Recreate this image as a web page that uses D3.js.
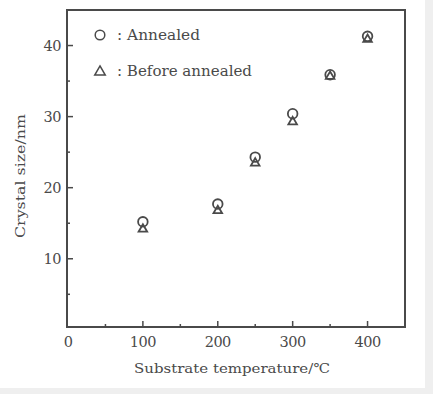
<!DOCTYPE html>
<html>
<head>
<meta charset="utf-8">
<script src="https://cdn.jsdelivr.net/npm/d3@7"></script>
<style>
  body { margin: 0; background: #fff; }
  svg text { font-family: "DejaVu Serif", "Liberation Serif", serif; fill: #4a4a4a; }
</style>
</head>
<body>
<svg id="chart" width="433" height="394"></svg>
<script>
// data
const temps = [100, 200, 250, 300, 350, 400];
const annealed = [15.2, 17.7, 24.3, 30.4, 35.9, 41.3];
const beforeAnnealed = [14.3, 16.9, 23.6, 29.4, 35.8, 41.0];
const xTicks = [100, 200, 300, 400];
const xMinor = [50, 150, 250, 350];
const yTicks = [10, 20, 30, 40];
const yMinor = [5, 15, 25, 35];

const svg = d3.select("#chart");
const ink = "#4a4a4a";

// light scan border on right/bottom
svg.append("rect").attr("x", 425).attr("y", 0).attr("width", 8).attr("height", 394).attr("fill", "#efefef");
svg.append("rect").attr("x", 0).attr("y", 388).attr("width", 433).attr("height", 6).attr("fill", "#efefef");

const margin = {left: 67, top: 10, right: 405, bottom: 327};
const x = d3.scaleLinear().domain([0, 450]).range([68, 405]);
const y = d3.scaleLinear().domain([0.4, 45]).range([327, 10]);

// frame
svg.append("rect")
  .attr("x", margin.left).attr("y", margin.top)
  .attr("width", margin.right - margin.left).attr("height", margin.bottom - margin.top)
  .attr("fill", "none").attr("stroke", ink).attr("stroke-width", 2);

// inward ticks
const g = svg.append("g");
g.selectAll("line.xt").data(xTicks.map(v => ({v, l: 6})).concat(xMinor.map(v => ({v, l: 3}))))
  .enter().append("line")
  .attr("x1", d => x(d.v)).attr("x2", d => x(d.v))
  .attr("y1", margin.bottom).attr("y2", d => margin.bottom - d.l)
  .attr("stroke", ink).attr("stroke-width", 1.5);
g.selectAll("line.yt").data(yTicks.map(v => ({v, l: 6})).concat(yMinor.map(v => ({v, l: 3}))))
  .enter().append("line")
  .attr("y1", d => y(d.v)).attr("y2", d => y(d.v))
  .attr("x1", margin.left).attr("x2", d => margin.left + d.l)
  .attr("stroke", ink).attr("stroke-width", 1.5);

// tick labels
g.selectAll("text.xl").data([0].concat(xTicks)).enter().append("text")
  .attr("x", d => x(d)).attr("y", 347)
  .attr("text-anchor", "middle").attr("font-size", 14.5)
  .attr("letter-spacing", -0.5)
  .text(d => d);
g.selectAll("text.yl").data(yTicks).enter().append("text")
  .attr("x", 61).attr("y", d => y(d) + 5)
  .attr("text-anchor", "end").attr("font-size", 14.5)
  .attr("letter-spacing", -0.5)
  .text(d => d);

// axis titles
svg.append("text").attr("x", 134).attr("y", 373)
  .attr("font-size", 13.5)
  .attr("textLength", 196).attr("lengthAdjust", "spacingAndGlyphs")
  .text("Substrate temperature/\u2103");
svg.append("text")
  .attr("transform", "translate(25,238) rotate(-90)")
  .attr("font-size", 13.5)
  .attr("textLength", 124).attr("lengthAdjust", "spacingAndGlyphs")
  .text("Crystal size/nm");

// markers
const tri = d3.symbol().type(d3.symbolTriangle).size(32);
svg.selectAll("path.before").data(temps).enter().append("path")
  .attr("d", tri)
  .attr("transform", (d, i) => `translate(${x(d)},${y(beforeAnnealed[i]) + 1})`)
  .attr("fill", "none").attr("stroke", ink).attr("stroke-width", 1.8);
svg.selectAll("circle.ann").data(temps).enter().append("circle")
  .attr("cx", d => x(d)).attr("cy", (d, i) => y(annealed[i]))
  .attr("r", 4.8)
  .attr("fill", "none").attr("stroke", ink).attr("stroke-width", 1.8);

// legend
svg.append("circle").attr("cx", 100).attr("cy", 35).attr("r", 4.8)
  .attr("fill", "none").attr("stroke", ink).attr("stroke-width", 1.5);
svg.append("text").attr("x", 117).attr("y", 40).attr("font-size", 14)
  .attr("textLength", 83).attr("lengthAdjust", "spacingAndGlyphs")
  .text(": Annealed");
svg.append("path").attr("d", d3.symbol().type(d3.symbolTriangle).size(48))
  .attr("transform", "translate(100,72)")
  .attr("fill", "none").attr("stroke", ink).attr("stroke-width", 1.5);
svg.append("text").attr("x", 117).attr("y", 76).attr("font-size", 14)
  .attr("textLength", 135).attr("lengthAdjust", "spacingAndGlyphs")
  .text(": Before annealed");
</script>
</body>
</html>
